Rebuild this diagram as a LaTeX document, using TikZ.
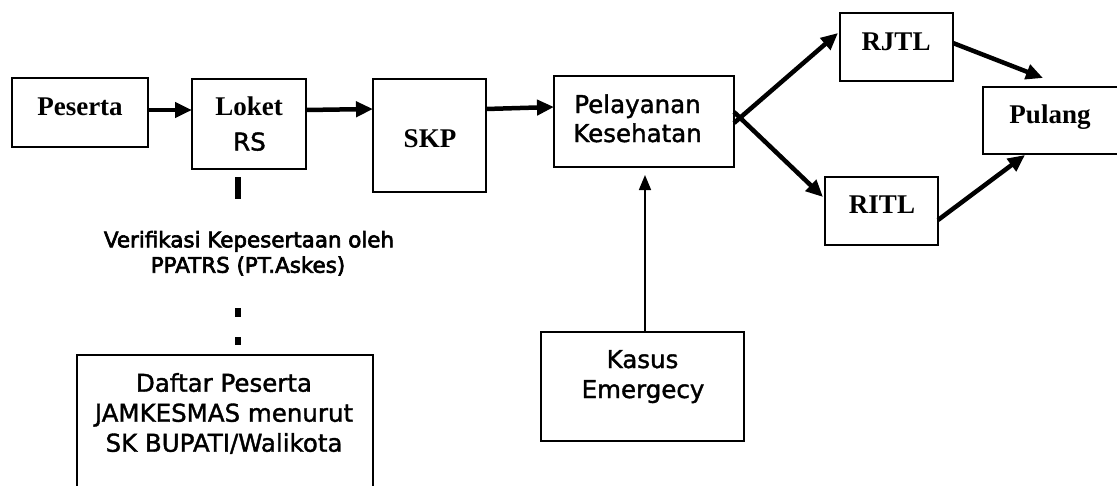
\documentclass[tikz,border=0pt]{standalone}
\usepackage{fontspec}
\setmainfont{Liberation Serif}
\newfontfamily\dvsans{DejaVu Sans}[FakeBold=1.5]
\newfontfamily\dvnote{DejaVu Sans}[FakeBold=3]
\usetikzlibrary{arrows.meta,calc}

\tikzset{
  box/.style={draw, line width=1.8pt, inner sep=0pt, outer sep=0pt},
  serifb/.style={font=\fontsize{27}{30}\selectfont\bfseries, anchor=base, inner sep=0pt},
  sanstxt/.style={font=\dvsans\fontsize{24.5}{29}\selectfont, anchor=base, inner sep=0pt},
  notetxt/.style={font=\dvnote\fontsize{21.4}{25}\selectfont, anchor=base, inner sep=0pt},
  flow/.style={line width=4.5pt, -{Triangle[length=17pt,width=15pt]}},
  feed/.style={line width=1.6pt, -{Triangle[length=15pt,width=12pt]}},
  verline/.style={line width=5.5pt,
    dash pattern=on 0pt off 8pt on 22pt off 109pt on 9pt off 20pt on 8pt off 20pt}
}

\begin{document}
\begin{tikzpicture}[x=1pt, y=-1pt]
  \useasboundingbox (0,0) rectangle (1117,485);
  \clip (0,0) rectangle (1117,485);
  \fill[white] (0,0) rectangle (1117,485);

  % boxes
  \node[box, minimum width=136pt, minimum height=69pt]  (peserta) at (80,112.5)   {};
  \node[box, minimum width=114pt, minimum height=90pt]  (loket)   at (249,124)    {};
  \node[box, minimum width=113pt, minimum height=113pt] (skp)     at (429.5,135.5) {};
  \node[box, minimum width=180pt, minimum height=91pt]  (pel)     at (644,121.5)  {};
  \node[box, minimum width=113pt, minimum height=68pt]  (rjtl)    at (896.5,47)   {};
  \node[box, minimum width=113pt, minimum height=68pt]  (ritl)    at (881.5,211)  {};
  \node[box, minimum width=135pt, minimum height=67pt]  (pulang)  at (1050.5,120.5) {};
  \node[box, minimum width=203pt, minimum height=109pt] (kasus)   at (642.5,386.5) {};
  \node[box, minimum width=296pt, minimum height=160pt] (daftar)  at (225,435)    {};

  % box texts
  \node[serifb] (tPeserta) at (80,115)    {Peserta};
  \node[serifb] (tLoket)   at (249,115)   {Loket};
  \node[sanstxt] (tRS)     at (249.5,150.5) {RS};
  \node[serifb] (tSKP)     at (430,147)   {SKP};
  \node[sanstxt] (tPel1)   at (637.5,113) {Pelayanan};
  \node[sanstxt] (tPel2)   at (637.5,142) {Kesehatan};
  \node[serifb] (tRJTL)    at (896,50)    {RJTL};
  \node[serifb] (tRITL)    at (882,213)   {RITL};
  \node[serifb] (tPulang)  at (1050,123)  {Pulang};
  \node[sanstxt] (tKasus1) at (642.5,368) {Kasus};
  \node[sanstxt] (tKasus2) at (643,398)   {Emergecy};
  \node[sanstxt] (tDaf1)   at (224,391.7) {Daftar Peserta};
  \node[sanstxt] (tDaf2)   at (224,421.7) {JAMKESMAS menurut};
  \node[sanstxt] (tDaf3)   at (224,451.7) {SK BUPATI/Walikota};

  % verification note
  \node[notetxt] (tVer1) at (249,247.3) {Verifikasi Kepesertaan oleh};
  \node[notetxt] (tVer2) at (248,272.7) {PPATRS (PT.Askes)};

  % main flow
  \draw[flow] ([yshift=2.5pt]peserta.east) -- ([yshift=14pt]loket.west);
  \draw[flow] ([yshift=14pt]loket.east) -- ([yshift=26.5pt]skp.west);
  \draw[flow] ([yshift=26.5pt]skp.east) -- ([yshift=14.5pt]pel.west);
  \draw[flow] ([yshift=-1.5pt]pel.east) -- ([xshift=-2pt,yshift=14pt]rjtl.west);
  \draw[flow] ([yshift=9.5pt]pel.east) -- ([xshift=-2pt,yshift=14pt]ritl.west);
  \draw[flow] ([yshift=4pt]rjtl.east) -- ([xshift=-7.5pt,yshift=9pt]pulang.north);
  \draw[flow] ([yshift=-9pt]ritl.east) -- ([xshift=-25.5pt,yshift=-1pt]pulang.south);

  % emergency feed
  \draw[feed, shorten >=8pt] ([xshift=2.5pt]kasus.north) -- ([xshift=1pt]pel.south);

  % verification link
  \coordinate (vx) at (238,0);
  \draw[verline] (loket.south -| vx) -- (daftar.north -| vx);
\end{tikzpicture}
\end{document}
